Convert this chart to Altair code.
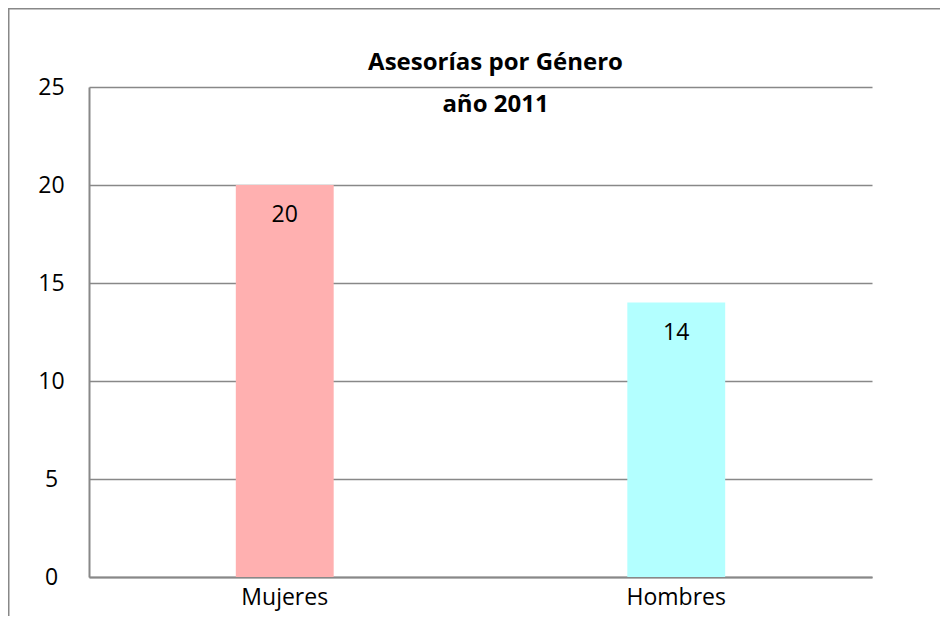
import altair as alt
import pandas as pd

categories = ["Mujeres", "Hombres"]
values = [20, 14]
colors = ["#FFB0B0", "#B3FFFF"]
y_ticks = [0, 5, 10, 15, 20, 25]
title_lines = ["Asesorías por Género", "año 2011"]

df = pd.DataFrame({"genero": categories, "valor": values})

FONT = "Open Sans"
GRAY = "#888888"

x_enc = alt.X(
    "genero:N", sort=categories, title=None,
    scale=alt.Scale(paddingInner=0.75, paddingOuter=0.375),
    axis=alt.Axis(labelAngle=0, labelFont=FONT, labelFontSize=23, labelColor="black",
                  labelPadding=9, ticks=False, domainColor=GRAY, domainWidth=2, grid=False),
)
y_enc = alt.Y(
    "valor:Q", title=None, scale=alt.Scale(domain=[0, 25], nice=False),
    axis=alt.Axis(values=y_ticks, labelFont=FONT, labelFontSize=23, labelColor="black",
                  labelAlign="center", labelBaseline="middle", labelPadding=38, ticks=False,
                  domainColor=GRAY, domainWidth=2, grid=True, gridColor=GRAY, gridWidth=1.5),
)

frame = alt.Chart(alt.Data(values=[{"a": 1}])).mark_rect(
    fillOpacity=0, stroke=GRAY, strokeWidth=2, clip=False
).encode(x=alt.value(-80.5), y=alt.value(-78.5), x2=alt.value(3000), y2=alt.value(3000))

bars = alt.Chart(df).mark_bar().encode(
    x=x_enc, y=y_enc,
    color=alt.Color("genero:N", scale=alt.Scale(domain=categories, range=colors), legend=None),
)

labels = alt.Chart(df).mark_text(
    font=FONT, fontSize=23, dy=30, baseline="middle", color="black"
).encode(x=alt.X("genero:N", sort=categories), y=alt.Y("valor:Q"), text="valor:Q")

chart = alt.layer(frame, bars, labels).properties(
    width=783, height=490,
    title=alt.Title(title_lines, font=FONT, fontSize=24, fontWeight="bold", color="black",
                    anchor="middle", frame="group", dx=15, lineHeight=42, offset=-109),
    autosize=alt.AutoSizeParams(type="none"),
    padding={"left": 81, "top": 79, "right": 68, "bottom": 39},
).configure_view(stroke="transparent")

chart.save("out.html", embed_options={"renderer": "svg", "actions": False})
